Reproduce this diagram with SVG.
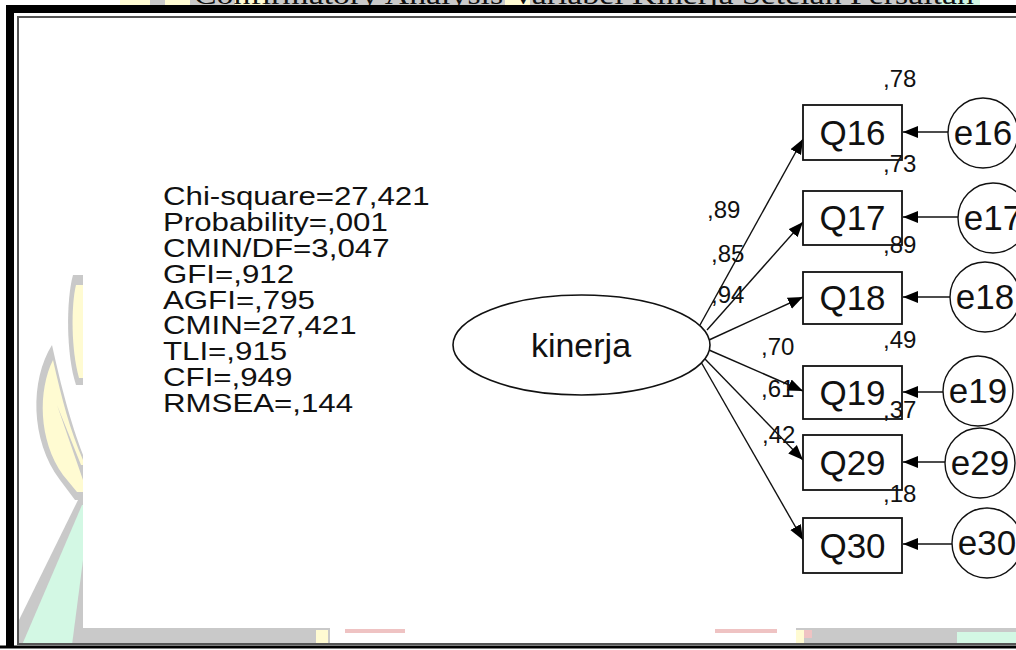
<svg xmlns="http://www.w3.org/2000/svg" width="1016" height="650" viewBox="0 0 1016 650">
  <defs>
    <marker id="arrow" markerUnits="userSpaceOnUse" markerWidth="16" markerHeight="14" refX="15" refY="6.5" orient="auto">
      <path d="M0,0.5 L15,6.5 L0,12.5 Z" fill="#000"/>
    </marker>
  </defs>
  <style>
    .frame-outer { fill: none; stroke: #000; stroke-width: 8; }
    .frame-inner { fill: none; stroke: #555; stroke-width: 2; }
    .wm-gray { fill: #c9c9c9; }
    .wm-yellow { fill: #fffbd2; }
    .wm-mint { fill: #d3f8e4; }
    .wm-pink { fill: #efc3c3; }
    .title { font-family: "Liberation Serif", serif; font-size: 28px; fill: #111; }
    .stats { font-family: "Liberation Sans", Arial, sans-serif; font-size: 25px; fill: #111; }
    .latent { fill: #fff; stroke: #111; stroke-width: 1.6; }
    .obs { fill: #fff; stroke: #111; stroke-width: 1.8; }
    .err { fill: #fff; stroke: #111; stroke-width: 1.4; }
    .lbl { font-family: "Liberation Sans", Arial, sans-serif; font-size: 35px; fill: #111; text-anchor: middle; }
    .num { font-family: "Liberation Sans", Arial, sans-serif; font-size: 24px; fill: #111; }
    .conn { stroke: #111; stroke-width: 1.4; fill: none; marker-end: url(#arrow); }
  </style>

  <rect width="1016" height="650" fill="#fff"/>

  <!-- page heading strip, mostly hidden under the frame -->
  <g id="heading">
    <rect class="wm-yellow" x="120" y="0" width="30" height="5"/>
    <rect class="wm-gray" x="150" y="0" width="15" height="5"/>
    <rect class="wm-yellow" x="165" y="0" width="25" height="5"/>
    <rect class="wm-gray" x="190" y="0" width="750" height="5"/>
    <rect class="wm-yellow" x="235" y="0" width="30" height="5"/>
    <rect class="wm-yellow" x="505" y="0" width="25" height="5"/>
    <rect class="wm-mint" x="940" y="0" width="40" height="5"/>
    <text class="title" x="194" y="4" textLength="780" lengthAdjust="spacingAndGlyphs">Confirmatory Analysis Variabel Kinerja Setelah Persaitan</text>
  </g>

  <!-- background logo pieces outside the diagram area -->
  <g id="backdrop">
    <path class="wm-gray" d="M73,275 C66,300 66,355 76,385 L83,385 L83,275 Z"/>
    <path class="wm-yellow" d="M76,285 C71,305 71,350 79,378 L83,378 L83,285 Z"/>
    <path class="wm-gray" d="M52,345 C30,380 30,440 60,480 L75,500 L83,500 L83,455 C70,420 62,390 52,345 Z"/>
    <path class="wm-yellow" d="M53,360 C38,390 38,440 63,475 L77,492 L83,492 L83,460 C70,430 62,400 53,360 Z"/>
    <path class="wm-gray" d="M57,405 L81,465 L83,465 L83,480 Z"/>
    <path class="wm-gray" d="M78,500 L83,500 L83,645 L19,645 L19,620 Z"/>
    <path class="wm-mint" d="M82,505 L83,505 L83,560 L72,645 L22,645 Z"/>
    <rect class="wm-gray" x="83" y="628" width="933" height="16"/>
    <rect class="wm-yellow" x="316" y="630" width="12" height="14"/>
    <rect fill="#fff" x="330" y="628" width="466" height="16"/>
    <rect class="wm-pink" x="345" y="629" width="60" height="4"/>
    <rect class="wm-pink" x="715" y="629" width="62" height="4"/>
    <rect class="wm-yellow" x="796" y="630" width="8" height="14"/>
    <rect class="wm-pink" x="804" y="630" width="8" height="8"/>
    <rect class="wm-mint" x="957" y="632" width="59" height="12"/>
  </g>

  <!-- double frame -->
  <g id="frame">
    <path class="frame-outer" d="M10,647 L10,9 L1030,9"/>
    <rect class="frame-inner" x="18" y="17" width="1010" height="627"/>
    <line x1="0" y1="647" x2="1016" y2="647" stroke="#000" stroke-width="3"/>
  </g>

  <!-- fit statistics (wide bitmap-style lettering) -->
  <g id="fit-stats" class="stats" transform="translate(163,0) scale(1.25,1)">
    <text x="0" y="205">Chi-square=27,421</text>
    <text x="0" y="231">Probability=,001</text>
    <text x="0" y="257">CMIN/DF=3,047</text>
    <text x="0" y="283">GFI=,912</text>
    <text x="0" y="309">AGFI=,795</text>
    <text x="0" y="334">CMIN=27,421</text>
    <text x="0" y="360">TLI=,915</text>
    <text x="0" y="386">CFI=,949</text>
    <text x="0" y="412">RMSEA=,144</text>
  </g>

  <!-- connectors: loadings and error paths -->
  <g id="connectors">
    <line class="conn" x1="700" y1="325" x2="803" y2="139"/>
    <line class="conn" x1="707" y1="330" x2="803" y2="222"/>
    <line class="conn" x1="709" y1="340" x2="803" y2="297"/>
    <line class="conn" x1="709" y1="350" x2="803" y2="391"/>
    <line class="conn" x1="705" y1="359" x2="803" y2="460"/>
    <line class="conn" x1="701" y1="362" x2="803" y2="540"/>
    <line class="conn" x1="948" y1="132" x2="903" y2="132"/>
    <line class="conn" x1="958" y1="217" x2="903" y2="217"/>
    <line class="conn" x1="950" y1="297" x2="903" y2="297"/>
    <line class="conn" x1="943" y1="392" x2="903" y2="392"/>
    <line class="conn" x1="945" y1="462" x2="903" y2="462"/>
    <line class="conn" x1="952" y1="544" x2="903" y2="544"/>
  </g>

  <!-- latent factor -->
  <g id="kinerja">
    <ellipse class="latent" cx="581.5" cy="345" rx="128.5" ry="50"/>
    <text x="581" y="357" font-family="Liberation Sans, Arial, sans-serif" font-size="34" fill="#111" text-anchor="middle">kinerja</text>
  </g>

  <!-- indicators -->
  <g id="Q16"><rect class="obs" x="803" y="105" width="99" height="55"/><text class="lbl" x="852.5" y="145">Q16</text></g>
  <g id="Q17"><rect class="obs" x="803" y="191" width="99" height="54"/><text class="lbl" x="852.5" y="230">Q17</text></g>
  <g id="Q18"><rect class="obs" x="803" y="272" width="99" height="52"/><text class="lbl" x="852.5" y="310">Q18</text></g>
  <g id="Q19"><rect class="obs" x="803" y="366" width="99" height="53"/><text class="lbl" x="852.5" y="405">Q19</text></g>
  <g id="Q29"><rect class="obs" x="803" y="435" width="99" height="55"/><text class="lbl" x="852.5" y="475">Q29</text></g>
  <g id="Q30"><rect class="obs" x="803" y="518" width="99" height="55"/><text class="lbl" x="852.5" y="558">Q30</text></g>

  <!-- error terms -->
  <g id="e16"><circle class="err" cx="983" cy="133" r="35"/><text class="lbl" x="983" y="145">e16</text></g>
  <g id="e17"><circle class="err" cx="993" cy="218" r="35"/><text class="lbl" x="993" y="230">e17</text></g>
  <g id="e18"><circle class="err" cx="985" cy="297" r="35"/><text class="lbl" x="985" y="309">e18</text></g>
  <g id="e19"><circle class="err" cx="978" cy="391" r="35"/><text class="lbl" x="978" y="403">e19</text></g>
  <g id="e29"><circle class="err" cx="980" cy="463" r="35"/><text class="lbl" x="980" y="475">e29</text></g>
  <g id="e30"><circle class="err" cx="987" cy="543" r="35"/><text class="lbl" x="987" y="555">e30</text></g>

  <!-- estimates -->
  <g id="estimates" class="num">
    <text x="883" y="87">,78</text>
    <text x="883" y="172">,73</text>
    <text x="883" y="253">,89</text>
    <text x="883" y="348">,49</text>
    <text x="883" y="418">,37</text>
    <text x="883" y="502">,18</text>
    <text x="707" y="218">,89</text>
    <text x="711" y="262">,85</text>
    <text x="711" y="303">,94</text>
    <text x="761" y="355">,70</text>
    <text x="761" y="397">,61</text>
    <text x="762" y="443">,42</text>
  </g>
</svg>
